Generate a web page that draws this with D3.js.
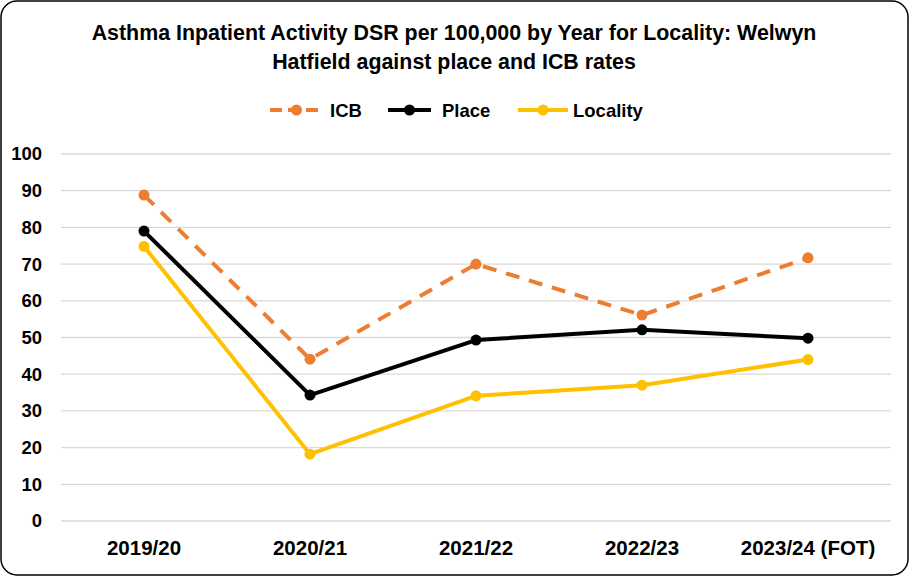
<!DOCTYPE html>
<html><head><meta charset="utf-8">
<script src="https://cdn.jsdelivr.net/npm/d3@7"></script>
<style>body{margin:0;background:#fff}svg{display:block}text{font-family:"Liberation Sans Narrow","Liberation Sans",sans-serif;font-weight:bold;fill:#000}</style>
</head><body>
<script>
const categories = ["2019/20","2020/21","2021/22","2022/23","2023/24 (FOT)"];
const icb = [88.8, 44.1, 70.0, 56.1, 71.7];
const place = [79.0, 34.3, 49.3, 52.1, 49.8];
const locality = [74.8, 18.2, 34.1, 37.0, 44.0];
const yTicks = [0,10,20,30,40,50,60,70,80,90,100];
const titleLines = ["Asthma Inpatient Activity DSR per 100,000 by Year for Locality: Welwyn","Hatfield against place and ICB rates"];

const W=910,H=577;
const svg=d3.select("body").append("svg").attr("width",W).attr("height",H);
svg.append("rect").attr("x",1).attr("y",1).attr("width",907).attr("height",574).attr("rx",16).attr("fill","#fff").attr("stroke","#000").attr("stroke-width",1.5);

const x=d3.scaleBand().domain(categories).range([61,891]);
const y=d3.scaleLinear().domain([0,100]).range([521,154]);

svg.selectAll(".title").data(titleLines).join("text").attr("x",454).attr("y",(d,i)=>40+i*29)
  .attr("text-anchor","middle").style("font-size","21.4px").text(d=>d);

// grid
svg.append("g").selectAll("line").data(yTicks).join("line")
  .attr("x1",61).attr("x2",891).attr("y1",d=>y(d)).attr("y2",d=>y(d)).attr("stroke","#d9d9d9").attr("stroke-width",1.3);

const ya=svg.append("g").attr("transform","translate(61,0)").call(d3.axisLeft(y).tickValues(yTicks).tickSize(0).tickPadding(19));
ya.select(".domain").remove();
ya.selectAll("text").style("font-size","18.5px").style("font-family",'"Liberation Sans Narrow","Liberation Sans",sans-serif').attr("fill","#000");

const xa=svg.append("g").attr("transform","translate(0,521)").call(d3.axisBottom(x).tickSize(0).tickPadding(19));
xa.select(".domain").remove();
xa.selectAll("text").style("font-size","20.5px").style("font-family",'"Liberation Sans Narrow","Liberation Sans",sans-serif').attr("fill","#000");

const series=[{name:"ICB",vals:icb,color:"#ED7D31",dash:"14,10"},{name:"Place",vals:place,color:"#000",dash:null},{name:"Locality",vals:locality,color:"#FFC000",dash:null}];
const line=d3.line().x((d,i)=>x(categories[i])+x.bandwidth()/2).y(d=>y(d));
series.forEach(s=>{
  svg.append("path").datum(s.vals).attr("d",line).attr("fill","none").attr("stroke",s.color).attr("stroke-width",4).attr("stroke-dasharray",s.dash).attr("stroke-linejoin","round");
  svg.append("g").selectAll("circle").data(s.vals).join("circle").attr("cx",(d,i)=>x(categories[i])+x.bandwidth()/2).attr("cy",d=>y(d)).attr("r",5.5).attr("fill",s.color);
});

// legend
const leg=[{s:series[0],x1:270,x2:323,tx:330},{s:series[1],x1:388,x2:431,tx:442},{s:series[2],x1:518,x2:568,tx:573}];
leg.forEach(l=>{
  svg.append("line").attr("x1",l.x1).attr("x2",l.x2).attr("y1",110).attr("y2",110).attr("stroke",l.s.color).attr("stroke-width",4).attr("stroke-dasharray",l.s.dash?"12,6":null);
  svg.append("circle").attr("cx",(l.x1+l.x2)/2).attr("cy",110).attr("r",5.5).attr("fill",l.s.color);
  svg.append("text").attr("x",l.tx).attr("y",117).style("font-size","18.5px").text(l.s.name);
});
</script>
</body></html>
